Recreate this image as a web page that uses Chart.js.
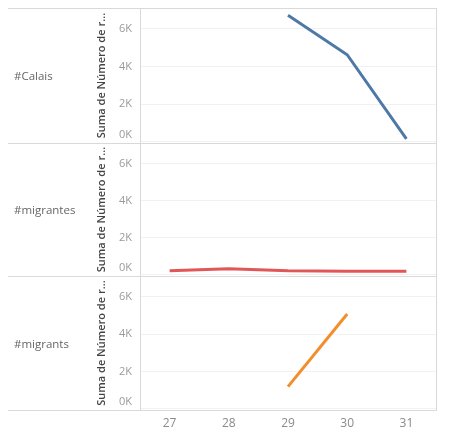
<!DOCTYPE html>
<html>
<head>
<meta charset="utf-8">
<script src="https://cdn.jsdelivr.net/npm/chart.js@4"></script>
<style>
  html, body { margin: 0; padding: 0; background: #fff; }
  body { width: 464px; height: 441px; position: relative; overflow: hidden; font-family: "Open Sans", sans-serif; }
  .pane { position: absolute; left: 0; width: 464px; }
  .rowlabel { position: absolute; left: 14px; font-size: 11.5px; color: #666; transform: translateY(-50%); }
  .hline { position: absolute; height: 1px; background: #d9d9d9; }
  .vline { position: absolute; width: 1px; background: #d9d9d9; }
</style>
</head>
<body>
<div class="pane" style="top:8px;height:135px"><canvas id="c1" width="464" height="135"></canvas></div>
<div class="pane" style="top:143px;height:133px"><canvas id="c2" width="464" height="133"></canvas></div>
<div class="pane" style="top:276px;height:165px"><canvas id="c3" width="464" height="165"></canvas></div>

<div class="rowlabel" style="top:75px">#Calais</div>
<div class="rowlabel" style="top:209px">#migrantes</div>
<div class="rowlabel" style="top:343px">#migrants</div>

<div class="hline" style="left:8px;width:429px;top:8px"></div>
<div class="hline" style="left:8px;width:429px;top:143px"></div>
<div class="hline" style="left:8px;width:429px;top:276px"></div>
<div class="hline" style="left:8px;width:429px;top:410px"></div>
<div class="vline" style="left:140px;top:8px;height:403px"></div>
<div class="vline" style="left:436px;top:8px;height:403px"></div>

<script>
const categories = ['27', '28', '29', '30', '31'];
const calaisValues = [null, null, 6710, 4620, 160];
const migrantesValues = [220, 330, 220, 190, 190];
const migrantsValues = [null, null, 1190, 5070, null];
const yTickValues = [0, 2000, 4000, 6000];
const yTitle = 'Suma de Número de r...';

const FONT = '"Open Sans", sans-serif';

function makeChart(id, values, color, showX) {
  return new Chart(document.getElementById(id), {
    type: 'line',
    data: {
      labels: categories,
      datasets: [{
        data: values,
        borderColor: color,
        borderWidth: 3,
        pointRadius: 0,
        tension: 0,
        fill: false
      }]
    },
    options: {
      responsive: false,
      animation: false,
      devicePixelRatio: 1,
      layout: { padding: { left: 91, right: 28, top: 0, bottom: 0 } },
      plugins: { legend: { display: false }, tooltip: { enabled: false } },
      scales: {
        x: {
          type: 'category',
          offset: true,
          display: showX,
          grid: { display: false, drawTicks: false },
          border: { display: false },
          ticks: { color: '#8a8a8a', padding: 6, font: { family: FONT, size: 12 } },
          afterFit: s => { if (showX) s.height = 31; s.paddingLeft = 0; s.paddingRight = 0; }
        },
        y: {
          min: -60,
          max: 7100,
          afterBuildTicks: s => { s.ticks = yTickValues.map(v => ({ value: v })); },
          afterFit: s => { s.width = 49; s.paddingTop = 0; s.paddingBottom = 0; },
          grid: { color: '#f1f1f1', drawTicks: false, lineWidth: 1 },
          border: { display: false },
          ticks: {
            color: '#9a9a9a',
            padding: 8,
            font: { family: FONT, size: 11 },
            callback: v => v === 0 ? ['0K', ''] : (v / 1000) + 'K'
          },
          title: {
            display: true,
            text: yTitle,
            color: '#444',
            padding: { top: 4, bottom: 0 },
            font: { family: FONT, size: 11, weight: '600' }
          }
        }
      }
    }
  });
}

makeChart('c1', calaisValues, '#4e79a7', false);
makeChart('c2', migrantesValues, '#e15759', false);
makeChart('c3', migrantsValues, '#f28e2b', true);
</script>
</body>
</html>
